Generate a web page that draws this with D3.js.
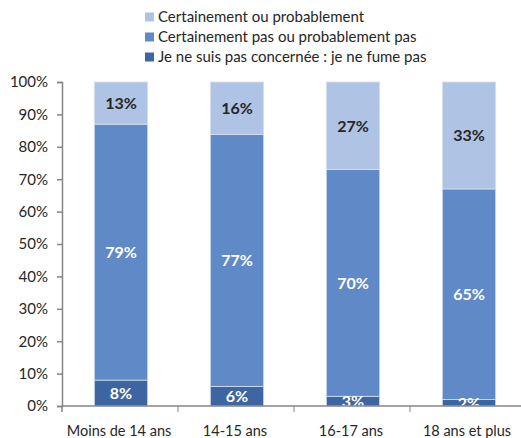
<!DOCTYPE html>
<html>
<head>
<meta charset="utf-8">
<script src="https://cdn.jsdelivr.net/npm/d3@7"></script>
<style>
  body { margin: 0; background: #fff; }
  text { font-family: Lato, "Open Sans", sans-serif; }
</style>
</head>
<body>
<svg id="chart"></svg>
<script>
var width = 521, height = 438;
var margin = {top: 82, right: -5, bottom: 32, left: 62};

// data
var categories = ["Moins de 14 ans", "14-15 ans", "16-17 ans", "18 ans et plus"];
var seriesNames = ["Je ne suis pas concernée : je ne fume pas",
                   "Certainement pas ou probablement pas",
                   "Certainement ou probablement"];
var nonConcernee = [8, 6, 3, 2];
var pasProbable = [79, 77, 70, 65];
var probable = [13, 16, 27, 33];
var yTicks = [0, 0.1, 0.2, 0.3, 0.4, 0.5, 0.6, 0.7, 0.8, 0.9, 1];

var colors = ["#3d65a1", "#5f89c7", "#afc4e4"];
var labelColors = ["#ffffff", "#ffffff", "#262626"];

var rows = categories.map((c, i) => ({
  cat: c,
  s0: nonConcernee[i],
  s1: pasProbable[i],
  s2: probable[i]
}));

var stack = d3.stack().keys(["s0", "s1", "s2"]).offset(d3.stackOffsetExpand);
var series = stack(rows);

var svg = d3.select("#chart").attr("width", width).attr("height", height);

var xScale = d3.scaleBand()
               .domain(categories)
               .range([margin.left, width - margin.right])
               .paddingInner(0)
               .paddingOuter(0);

var yScale = d3.scaleLinear()
               .domain([0, 1])
               .range([height - margin.bottom, margin.top]);

var barW = xScale.bandwidth() * 0.46;

svg.append("clipPath").attr("id", "plot")
   .append("rect")
   .attr("x", margin.left).attr("y", margin.top)
   .attr("width", width - margin.left).attr("height", yScale(0) - margin.top);

var groups = svg.append("g")
  .selectAll("g")
  .data(series)
  .enter()
  .append("g")
  .attr("fill", (d, i) => colors[i]);

groups.selectAll("rect")
  .data(d => d)
  .enter()
  .append("rect")
  .attr("x", d => xScale(d.data.cat) + (xScale.bandwidth() - barW) / 2 + 1)
  .attr("y", d => yScale(d[1]))
  .attr("width", barW)
  .attr("height", d => yScale(d[0]) - yScale(d[1]))
  .attr("stroke", "#d6e0ef")
  .attr("stroke-width", 0.8);

// segment labels
var labels = svg.append("g").attr("clip-path", "url(#plot)");
series.forEach((s, i) => {
  labels.selectAll(null)
    .data(s)
    .enter()
    .append("text")
    .attr("x", d => xScale(d.data.cat) + xScale.bandwidth() / 2 + 1)
    .attr("y", d => (yScale(d[0]) + yScale(d[1])) / 2)
    .attr("dy", "0.36em")
    .attr("text-anchor", "middle")
    .attr("fill", labelColors[i])
    .style("font-size", "16px")
    .style("font-weight", "bold")
    .text(d => d.data[s.key] + "%");
});

// axes
var yAxis = d3.axisLeft(yScale).tickValues(yTicks).tickFormat(d3.format(".0%")).tickSize(5).tickPadding(9);
var gy = svg.append("g")
  .attr("transform", "translate(" + margin.left + ",0)")
  .call(yAxis);
gy.select(".domain").attr("stroke", "#868686").attr("stroke-width", 1.5);
gy.selectAll(".tick line").attr("stroke", "#868686").attr("stroke-width", 1.5);
gy.selectAll(".tick text").attr("fill", "#262626").style("font-size", "15px");

var gx = svg.append("g")
  .attr("transform", "translate(0," + yScale(0) + ")");
gx.append("line")
  .attr("x1", margin.left).attr("x2", width)
  .attr("stroke", "#868686").attr("stroke-width", 1.5);
gx.selectAll(".tk")
  .data(categories.slice(1))
  .enter()
  .append("line")
  .attr("x1", d => xScale(d)).attr("x2", d => xScale(d))
  .attr("y1", 0).attr("y2", 6)
  .attr("stroke", "#868686").attr("stroke-width", 1);
gx.append("line")
  .attr("x1", margin.left).attr("x2", margin.left)
  .attr("y1", 0).attr("y2", 6)
  .attr("stroke", "#868686").attr("stroke-width", 1.5);
gx.selectAll(".lbl")
  .data(categories)
  .enter()
  .append("text")
  .attr("x", d => xScale(d) + xScale.bandwidth() / 2 - 1)
  .attr("y", 25)
  .attr("dy", "0.35em")
  .attr("text-anchor", "middle")
  .attr("fill", "#262626")
  .style("font-size", "14.5px")
  .text(d => d);

// legend
var legendOrder = [2, 1, 0];
var legend = svg.append("g").attr("transform", "translate(145,17)");
legendOrder.forEach((k, i) => {
  var row = legend.append("g").attr("transform", "translate(0," + (i * 20) + ")");
  row.append("rect")
     .attr("x", 0).attr("y", -4.5)
     .attr("width", 9).attr("height", 9)
     .attr("fill", colors[k]);
  row.append("text")
     .attr("x", 13).attr("y", 0)
     .attr("dy", "0.35em")
     .attr("fill", "#262626")
     .style("font-size", "15px")
     .text(seriesNames[k]);
});
</script>
</body>
</html>
